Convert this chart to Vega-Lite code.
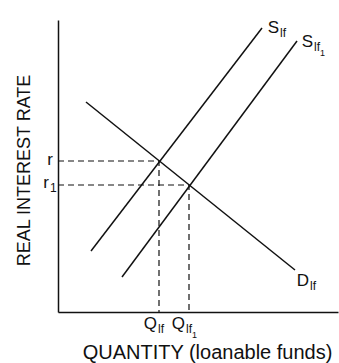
{
  "$schema": "https://vega.github.io/schema/vega-lite/v6.json",
  "width": 280,
  "height": 292,
  "autosize": {"type": "none"},
  "padding": {"left": 58, "top": 20, "right": 1, "bottom": 51},
  "background": "white",
  "config": {"view": {"stroke": null}, "font": "Liberation Sans"},
  "datasets": {
    "curves": [
      {"curve": "Slf", "i": 0, "x": 33, "y": 61},
      {"curve": "Slf", "i": 1, "x": 204, "y": 284},
      {"curve": "Slf1", "i": 0, "x": 64, "y": 35},
      {"curve": "Slf1", "i": 1, "x": 239, "y": 271},
      {"curve": "Dlf", "i": 0, "x": 28, "y": 210},
      {"curve": "Dlf", "i": 1, "x": 237, "y": 42}
    ],
    "guides": [
      {"guide": "e0", "i": 0, "x": 0, "y": 151},
      {"guide": "e0", "i": 1, "x": 101, "y": 151},
      {"guide": "e0", "i": 2, "x": 101, "y": 0},
      {"guide": "e1", "i": 0, "x": 0, "y": 127},
      {"guide": "e1", "i": 1, "x": 131, "y": 127},
      {"guide": "e1", "i": 2, "x": 131, "y": 0}
    ],
    "labels": [
      {"main": "S", "sub": "lf", "sub2": "", "x": 221, "y": 279},
      {"main": "S", "sub": "lf", "sub2": "1", "x": 255, "y": 265},
      {"main": "D", "sub": "lf", "sub2": "", "x": 251, "y": 26},
      {"main": "r", "sub": "", "sub2": "", "x": -5, "y": 147},
      {"main": "r", "sub": "1", "sub2": "", "x": -9, "y": 124},
      {"main": "Q", "sub": "lf", "sub2": "", "x": 99, "y": -17},
      {"main": "Q", "sub": "lf", "sub2": "1", "x": 127, "y": -17}
    ]
  },
  "encoding": {
    "x": {
      "field": "x", "type": "quantitative",
      "scale": {"domain": [0, 280], "nice": false, "zero": false},
      "axis": {
        "title": "QUANTITY (loanable funds)", "ticks": false, "labels": false, "grid": false,
        "domainColor": "#111", "domainWidth": 1.5,
        "titleFontSize": 20, "titleFontWeight": "normal", "titleColor": "#111",
        "titleX": 149, "titleY": 46, "titleBaseline": "alphabetic", "titleAlign": "center"
      }
    },
    "y": {
      "field": "y", "type": "quantitative",
      "scale": {"domain": [0, 292], "nice": false, "zero": false},
      "axis": {
        "title": "REAL INTEREST RATE", "ticks": false, "labels": false, "grid": false,
        "domainColor": "#111", "domainWidth": 1.5,
        "titleFontSize": 18, "titleFontWeight": "normal", "titleColor": "#111",
        "titleX": -29, "titleY": 150, "titleAngle": -90, "titleBaseline": "alphabetic", "titleAlign": "center"
      }
    }
  },
  "layer": [
    {
      "data": {"name": "guides"},
      "mark": {"type": "line", "color": "#111", "strokeWidth": 1.2, "strokeDash": [6, 4]},
      "encoding": {"detail": {"field": "guide"}, "order": {"field": "i"}}
    },
    {
      "data": {"name": "curves"},
      "mark": {"type": "line", "color": "#111", "strokeWidth": 1.5},
      "encoding": {"detail": {"field": "curve"}, "order": {"field": "i"}}
    },
    {
      "data": {"name": "labels"},
      "mark": {"type": "text", "align": "right", "baseline": "alphabetic", "fontSize": 17, "color": "#111"},
      "encoding": {"text": {"field": "main"}}
    },
    {
      "data": {"name": "labels"},
      "mark": {"type": "text", "align": "left", "baseline": "alphabetic", "fontSize": 12, "dy": 4, "dx": 1, "color": "#111"},
      "encoding": {"text": {"field": "sub"}}
    },
    {
      "data": {"name": "labels"},
      "mark": {"type": "text", "align": "left", "baseline": "alphabetic", "fontSize": 9, "dy": 9, "dx": 7, "color": "#111"},
      "encoding": {"text": {"field": "sub2"}}
    }
  ]
}
